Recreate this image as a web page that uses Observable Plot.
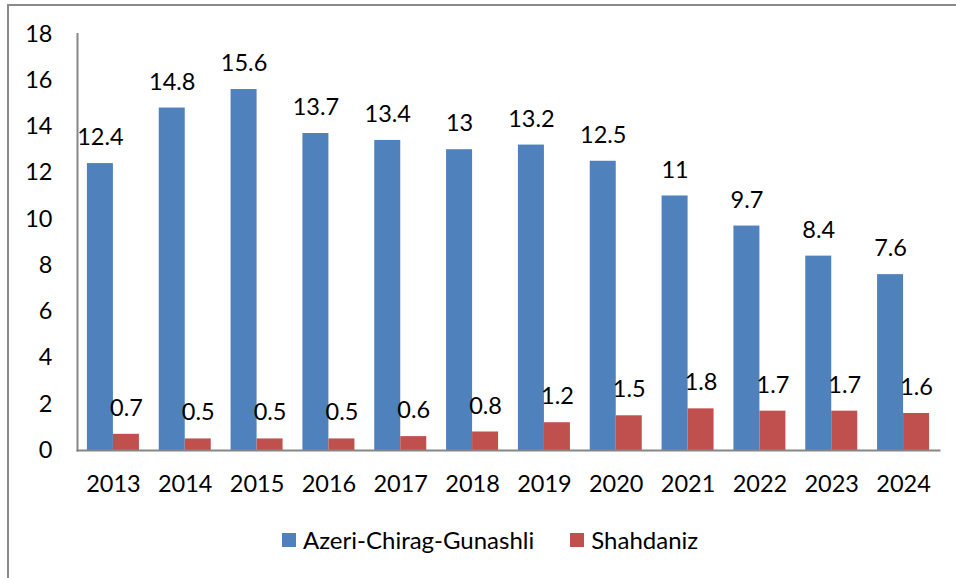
<!DOCTYPE html>
<html>
<head>
<meta charset="utf-8">
<script src="https://cdn.jsdelivr.net/npm/d3@7"></script>
<script src="https://cdn.jsdelivr.net/npm/@observablehq/plot@0.6"></script>
<style>
  html, body { margin: 0; padding: 0; background: #fff; }
  body { width: 956px; height: 578px; overflow: hidden; position: relative; font-family: Lato, "Open Sans", sans-serif; }
  #border { position: absolute; left: 7px; top: 4px; width: 1000px; height: 600px; border-left: 2px solid #8a8a8a; border-top: 2px solid #8a8a8a; }
  #chart { position: absolute; left: 0; top: 0; }
  #legend { position: absolute; top: 525px; left: 282px; display: flex; align-items: center; font-size: 24px; color: #000; }
  .item { display: flex; align-items: center; }
  .sw { width: 14px; height: 14px; margin-right: 7px; }
</style>
</head>
<body>
<div id="border"></div>
<div id="chart"></div>
<div id="legend"></div>
<script>
const years = ["2013","2014","2015","2016","2017","2018","2019","2020","2021","2022","2023","2024"];
const acg = [12.4, 14.8, 15.6, 13.7, 13.4, 13, 13.2, 12.5, 11, 9.7, 8.4, 7.6];
const shah = [0.7, 0.5, 0.5, 0.5, 0.6, 0.8, 1.2, 1.5, 1.8, 1.7, 1.7, 1.6];
const seriesNames = ["Azeri-Chirag-Gunashli", "Shahdaniz"];
const seriesColors = ["#4F81BD", "#C0504D"];
const yTicks = [0, 2, 4, 6, 8, 10, 12, 14, 16, 18];

const W = 956, H = 578;
const mL = 77, mR = 17, mT = 33.5, mB = 128;
const pIn = 0.276, pOut = 0.138;
const step = (W - mL - mR) / (years.length - pIn + 2 * pOut);
const half = step * (1 - pIn) / 2;
const FS = 23.5;

const dataA = years.map((y, i) => ({year: y, value: acg[i]}));
const dataS = years.map((y, i) => ({year: y, value: shah[i]}));

const chart = Plot.plot({
  width: W, height: H,
  marginLeft: mL, marginRight: mR, marginTop: mT, marginBottom: mB,
  style: {fontFamily: "Lato, 'Open Sans', sans-serif", fontSize: FS + "px", color: "#000", background: "transparent"},
  x: {domain: years, paddingInner: pIn, paddingOuter: pOut, round: false, label: null},
  y: {domain: [0, 18], label: null},
  marks: [
    Plot.barY(dataA, {x: "year", y: "value", fill: seriesColors[0], insetRight: half, insetLeft: 0}),
    Plot.barY(dataS, {x: "year", y: "value", fill: seriesColors[1], insetLeft: half, insetRight: 0}),
    Plot.text(dataA, {x: "year", y: "value", text: d => String(d.value), dx: -half / 2, dy: -26, fill: "#000", fontSize: FS}),
    Plot.text(dataS, {x: "year", y: "value", text: d => String(d.value), dx: half / 2, dy: -26, fill: "#000", fontSize: FS}),
    Plot.axisY({ticks: yTicks, tickSize: 0, tickPadding: 25, fontSize: FS, label: null}),
    Plot.axisX({tickSize: 0, tickPadding: 25, fontSize: FS, label: null}),
    Plot.frame({anchor: "left", stroke: "#868686", strokeWidth: 2, strokeOpacity: 1}),
    Plot.frame({anchor: "bottom", stroke: "#868686", strokeWidth: 2, strokeOpacity: 1})
  ]
});
document.getElementById("chart").appendChild(chart);

const legend = document.getElementById("legend");
seriesNames.forEach((name, i) => {
  const item = document.createElement("div");
  item.className = "item";
  if (i > 0) item.style.marginLeft = "36px";
  const sw = document.createElement("div");
  sw.className = "sw";
  sw.style.background = seriesColors[i];
  const label = document.createElement("span");
  label.textContent = name;
  item.appendChild(sw);
  item.appendChild(label);
  legend.appendChild(item);
});
</script>
</body>
</html>
